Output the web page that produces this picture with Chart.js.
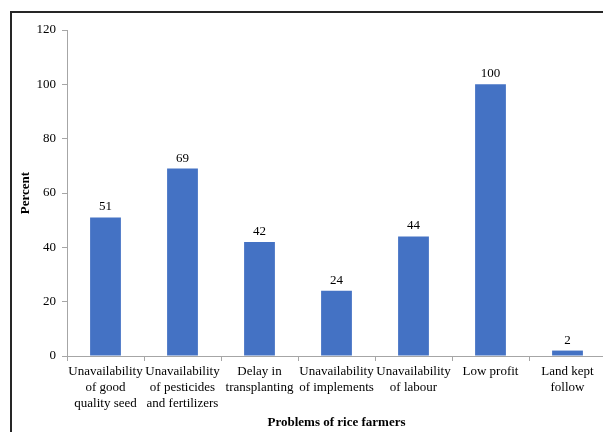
<!DOCTYPE html>
<html>
<head>
<meta charset="utf-8">
<script src="https://cdn.jsdelivr.net/npm/chart.js@4/dist/chart.umd.min.js"></script>
<style>
  html, body { margin: 0; padding: 0; overflow: hidden; background: #fff; width: 603px; height: 432px; }
  #wrap { position: absolute; left: 0; top: 0; width: 620px; height: 432px; }
  #frame { position: absolute; left: 10px; top: 11px; width: 700px; height: 500px;
           border-left: 2px solid #262626; border-top: 2px solid #262626; pointer-events: none; }
</style>
</head>
<body>
<div id="wrap"><canvas id="chart" width="620" height="432"></canvas></div>
<div id="frame"></div>
<script>
const categories = [
  ['Unavailability', 'of good', 'quality seed'],
  ['Unavailability', 'of pesticides', 'and fertilizers'],
  ['Delay in', 'transplanting'],
  ['Unavailability', 'of implements'],
  ['Unavailability', 'of labour'],
  ['Low profit'],
  ['Land kept', 'follow']
];
const percents = [51, 69, 42, 24, 44, 100, 2];
const yTicks = [0, 20, 40, 60, 80, 100, 120];

const serif = "'Liberation Serif', 'Times New Roman', serif";
const axisGray = '#a6a6a6';

// Value labels above each bar
const barLabels = {
  id: 'barLabels',
  afterDatasetsDraw(chart) {
    const ctx = chart.ctx;
    const meta = chart.getDatasetMeta(0);
    ctx.save();
    ctx.font = '13px ' + serif;
    ctx.fillStyle = '#000';
    ctx.textAlign = 'center';
    ctx.textBaseline = 'alphabetic';
    meta.data.forEach((bar, i) => {
      ctx.fillText(String(percents[i]), bar.x, bar.y - 7);
    });
    ctx.restore();
  }
};

const canvas = document.getElementById('chart');
const context = canvas.getContext('2d');
new Chart(context, {
  type: 'bar',
  data: {
    labels: categories,
    datasets: [{
      data: percents,
      backgroundColor: '#4472c4',
      barPercentage: 0.4,
      categoryPercentage: 1
    }]
  },
  options: {
    responsive: false,
    animation: false,
    layout: { padding: { top: 30, right: 14, bottom: 0, left: 0 } },
    plugins: {
      legend: { display: false },
      tooltip: { enabled: false }
    },
    scales: {
      x: {
        grid: { display: true, drawOnChartArea: false, drawTicks: true, tickLength: 5, color: axisGray },
        border: { color: axisGray, width: 1 },
        ticks: {
          color: '#000',
          padding: 3,
          maxRotation: 0,
          autoSkip: false,
          font: { family: serif, size: 13, lineHeight: 1.23 }
        },
        title: {
          display: true,
          text: 'Problems of rice farmers',
          color: '#000',
          font: { family: serif, size: 13, weight: 'bold' },
          padding: { top: 0, bottom: 2 }
        },
        afterFit(scale) { scale.height = 76; }
      },
      y: {
        min: 0,
        max: 120,
        afterBuildTicks(scale) { scale.ticks = yTicks.map(v => ({ value: v })); },
        grid: { display: true, drawOnChartArea: false, drawTicks: true, tickLength: 5, color: axisGray },
        border: { color: axisGray, width: 1 },
        ticks: {
          color: '#000',
          padding: 6,
          font: { family: serif, size: 13 }
        },
        title: {
          display: true,
          text: 'Percent',
          color: '#000',
          font: { family: serif, size: 13, weight: 'bold' },
          padding: { top: 18, bottom: 0 }
        },
        afterFit(scale) { scale.width = 67; }
      }
    }
  },
  plugins: [barLabels]
});
</script>
</body>
</html>
